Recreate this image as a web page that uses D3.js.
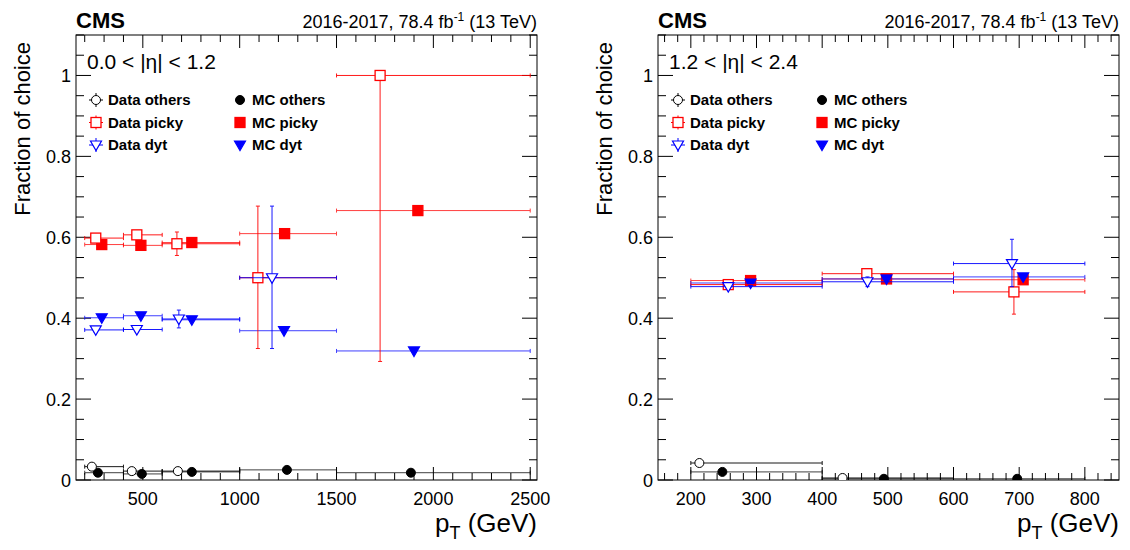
<!DOCTYPE html>
<html><head><meta charset="utf-8">
<script src="https://cdn.jsdelivr.net/npm/d3@7"></script>
<style>
body { margin: 0; background: #fff; }
text { font-family: "Liberation Sans", Arial, sans-serif; }
</style>
</head><body>
<svg id="c" width="1130" height="550"></svg>
<script>
// each point: [x, y, xlo, xhi, ylo, yhi]
const leftDataOthers = [[237,0.033,200,400,0.031,0.035],[443,0.022,400,600,0.020,0.024],[681,0.022,600,1000,0.020,0.024]];
const leftMcOthers = [[268,0.018,200,400],[495,0.015,400,600],[753,0.020,600,1000],[1244,0.025,1000,1500],[1884,0.018,1500,2500]];
const leftDataPicky = [[257,0.598,200,400,0.59,0.606],[469,0.606,400,600,0.598,0.614],[676,0.584,600,1000,0.555,0.613],[1094,0.5,1000,1500,0.325,0.677],[1725,1.0,1500,2500,0.293,1.0]];
const leftMcPicky = [[288,0.582,200,400],[490,0.580,400,600],[753,0.587,600,1000],[1232,0.609,1000,1500],[1920,0.666,1500,2500]];
const leftDataDyt = [[257,0.371,200,400,0.365,0.377],[469,0.372,400,600,0.366,0.378],[686,0.398,600,1000,0.376,0.42],[1167,0.5,1000,1500,0.325,0.677]];
const leftMcDyt = [[288,0.401,200,400],[490,0.406,400,600],[753,0.396,600,1000],[1229,0.369,1000,1500],[1900,0.319,1500,2500]];

const rightDataOthers = [[213,0.042,200,400,0.04,0.044],[431,0.005,400,600,0.002,0.008]];
const rightMcOthers = [[248,0.020,200,400],[494,0.003,400,600],[697,0.003,600,800]];
const rightDataPicky = [[257,0.483,200,400,0.478,0.488],[468,0.510,400,600,0.500,0.520],[692,0.465,600,800,0.41,0.52]];
const rightMcPicky = [[291,0.493,200,400],[498,0.497,400,600],[706,0.495,600,800]];
const rightDataDyt = [[257,0.478,200,400,0.473,0.483],[469,0.490,400,600,0.478,0.502],[689,0.535,600,800,0.478,0.595]];
const rightMcDyt = [[291,0.487,200,400],[498,0.497,400,600],[706,0.502,600,800]];

const yTicks = [0, 0.2, 0.4, 0.6, 0.8, 1];
const leftXTicks = [500, 1000, 1500, 2000, 2500];
const rightXTicks = [200, 300, 400, 500, 600, 700, 800];
const legendRows = [["Data others","MC others","circle","#000"],["Data picky","MC picky","square","#f00"],["Data dyt","MC dyt","tri","#00f"]];

const svg = d3.select("#c");

function marker(g, shape, x, y, color, filled) {
  const fill = filled ? color : "#fff";
  if (shape === "circle") g.append("circle").attr("cx", x).attr("cy", y).attr("r", 4.5).attr("fill", fill).attr("stroke", color).attr("stroke-width", 1);
  else if (shape === "square") g.append("rect").attr("x", x - 5).attr("y", y - 5).attr("width", 10).attr("height", 10).attr("fill", fill).attr("stroke", color).attr("stroke-width", 1.3);
  else g.append("path").attr("d", `M${x-5.5},${y-4}L${x+5.5},${y-4}L${x},${y+5.5}Z`).attr("fill", fill).attr("stroke", color).attr("stroke-width", 1.2);
}

function panel(o) {
  const m = { l: o.left, r: o.left + 461, t: 35, b: 480 };
  const x = d3.scaleLinear().domain(o.xdom).range([m.l, m.r]);
  const y = d3.scaleLinear().domain([0, 1.1]).range([m.b, m.t]);
  const g = svg.append("g");
  const clip = "clip" + o.left;
  g.append("clipPath").attr("id", clip).append("rect").attr("x", m.l).attr("y", m.t).attr("width", m.r - m.l).attr("height", m.b - m.t);

  // ticks: inward, on all sides
  const ax = g.append("g").attr("stroke", "#000").attr("stroke-width", 1);
  const xMinor = d3.range(o.xdom[0], o.xdom[1], o.xminor).map(v => Math.ceil(v / o.xminor) * o.xminor).filter(v => v >= o.xdom[0] && v <= o.xdom[1]);
  xMinor.forEach(v => {
    const big = o.xticks.includes(v);
    const L = big ? 13 : 7;
    ax.append("line").attr("x1", x(v)).attr("x2", x(v)).attr("y1", m.b).attr("y2", m.b - L);
    ax.append("line").attr("x1", x(v)).attr("x2", x(v)).attr("y1", m.t).attr("y2", m.t + L);
  });
  d3.range(0, 1.1001, 0.05).forEach(v => {
    const big = Math.abs(v * 5 - Math.round(v * 5)) < 1e-6;
    const L = big ? 15 : 8;
    ax.append("line").attr("x1", m.l).attr("x2", m.l + L).attr("y1", y(v)).attr("y2", y(v));
    ax.append("line").attr("x1", m.r).attr("x2", m.r - L).attr("y1", y(v)).attr("y2", y(v));
  });
  g.append("rect").attr("x", m.l).attr("y", m.t).attr("width", m.r - m.l).attr("height", m.b - m.t).attr("fill", "none").attr("stroke", "#000").attr("stroke-width", 1);

  g.selectAll(".xt").data(o.xticks).enter().append("text")
    .attr("x", d => x(d)).attr("y", 505).attr("text-anchor", "middle").attr("font-size", 18).text(d => d);
  g.selectAll(".yt").data(yTicks).enter().append("text")
    .attr("x", m.l - 5).attr("y", d => y(d) + 7).attr("text-anchor", "end").attr("font-size", 18).text(d => d === 0 || d === 1 ? d : d.toFixed(1));

  g.append("text").attr("x", o.left - 46).attr("y", 42).attr("transform", `rotate(-90,${o.left - 46},42)`)
    .attr("text-anchor", "end").attr("font-size", 22).text("Fraction of choice");
  const xl = g.append("text").attr("x", m.r).attr("y", 532).attr("text-anchor", "end").attr("font-size", 26);
  xl.append("tspan").text("p");
  xl.append("tspan").attr("font-size", 18).attr("dy", 7).text("T");
  xl.append("tspan").attr("dy", -7).text(" (GeV)");

  g.append("text").attr("x", m.l).attr("y", 28).attr("font-size", 22).attr("font-weight", "bold").text("CMS");
  const lumi = g.append("text").attr("x", m.r).attr("y", 28).attr("text-anchor", "end").attr("font-size", 18);
  lumi.append("tspan").text("2016-2017, 78.4 fb");
  lumi.append("tspan").attr("font-size", 12).attr("dy", -7).text("-1");
  lumi.append("tspan").attr("dy", 7).text(" (13 TeV)");

  g.append("text").attr("x", m.l + 11).attr("y", 69).attr("font-size", 21).text(o.eta);

  // legend
  legendRows.forEach((r, i) => {
    const ly = 100 + i * 22.5;
    [[m.l + 20, r[0], false], [m.l + 164, r[1], true]].forEach(([lx, label, filled]) => {
      const cross = g.append("g").attr("stroke", r[3]).attr("stroke-width", 1);
      if (!filled) {
        cross.append("line").attr("x1", lx - 7).attr("x2", lx + 7).attr("y1", ly).attr("y2", ly);
        cross.append("line").attr("x1", lx).attr("x2", lx).attr("y1", ly - 7).attr("y2", ly + 7);
      }
      marker(g, r[2], lx, ly, r[3], filled);
      g.append("text").attr("x", lx + 12).attr("y", ly + 5).attr("font-size", 15).attr("font-weight", "bold").text(label);
    });
  });

  // series
  const plot = g.append("g").attr("clip-path", `url(#${clip})`);
  o.series.forEach(s => {
    s.data.forEach(d => {
      const sg = plot.append("g").attr("stroke", s.color).attr("stroke-width", 1).attr("opacity", s.filled ? 0.75 : 0.9);
      sg.append("line").attr("x1", x(d[2])).attr("x2", x(d[3])).attr("y1", y(d[1])).attr("y2", y(d[1]));
      [d[2], d[3]].forEach(e => sg.append("line").attr("x1", x(e)).attr("x2", x(e)).attr("y1", y(d[1]) - 2).attr("y2", y(d[1]) + 2));
      if (d.length > 4) {
        sg.append("line").attr("x1", x(d[0])).attr("x2", x(d[0])).attr("y1", y(d[4])).attr("y2", y(d[5]));
        [d[4], d[5]].forEach(e => sg.append("line").attr("x1", x(d[0]) - 2).attr("x2", x(d[0]) + 2).attr("y1", y(e)).attr("y2", y(e)));
      }
      marker(plot, s.shape, x(d[0]), y(d[1]), s.color, s.filled);
    });
  });
}

panel({ left: 76, xdom: [155, 2535], xticks: leftXTicks, xminor: 100, eta: "0.0 < |η| < 1.2",
  series: [
    { data: leftMcOthers, shape: "circle", color: "#000", filled: true },
    { data: leftDataOthers, shape: "circle", color: "#000", filled: false },
    { data: leftMcPicky, shape: "square", color: "#f00", filled: true },
    { data: leftMcDyt, shape: "tri", color: "#00f", filled: true },
    { data: leftDataPicky, shape: "square", color: "#f00", filled: false },
    { data: leftDataDyt, shape: "tri", color: "#00f", filled: false }
  ] });
panel({ left: 658, xdom: [150, 852], xticks: rightXTicks, xminor: 20, eta: "1.2 < |η| < 2.4",
  series: [
    { data: rightMcOthers, shape: "circle", color: "#000", filled: true },
    { data: rightDataOthers, shape: "circle", color: "#000", filled: false },
    { data: rightMcPicky, shape: "square", color: "#f00", filled: true },
    { data: rightMcDyt, shape: "tri", color: "#00f", filled: true },
    { data: rightDataPicky, shape: "square", color: "#f00", filled: false },
    { data: rightDataDyt, shape: "tri", color: "#00f", filled: false }
  ] });
</script>
</body></html>
